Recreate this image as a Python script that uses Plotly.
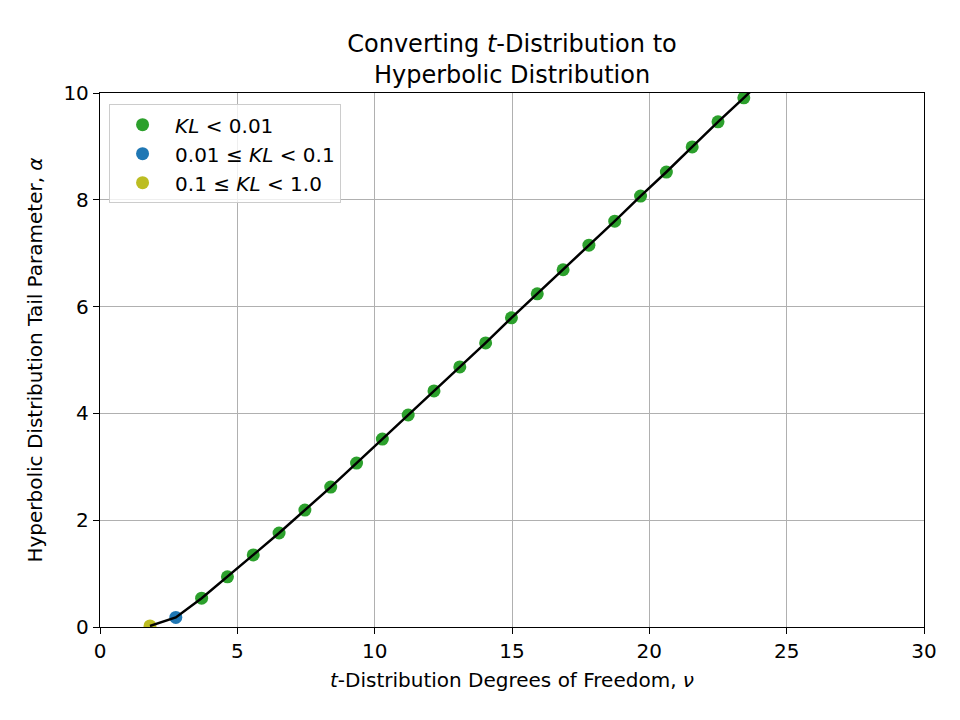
import plotly.graph_objects as go

# t-distribution degrees of freedom and fitted hyperbolic tail parameter
nu_good = [3.70, 4.64, 5.58, 6.52, 7.46, 8.40, 9.34, 10.28, 11.22, 12.16, 13.10,
           14.04, 14.98, 15.92, 16.86, 17.80, 18.74, 19.68, 20.62, 21.56, 22.50, 23.44]
alpha_good = [0.54, 0.94, 1.35, 1.76, 2.19, 2.62, 3.07, 3.52, 3.97, 4.42, 4.87,
              5.32, 5.79, 6.24, 6.69, 7.15, 7.60, 8.07, 8.52, 8.99, 9.46, 9.91]
nu_mid = [2.76]
alpha_mid = [0.18]
nu_bad = [1.82]
alpha_bad = [0.02]

# fitted curve (runs off the top of the axes)
nu_curve = [1.82, 2.76, 3.70, 4.64, 5.58, 6.52, 7.46, 8.40, 9.34, 10.28, 11.22, 12.16,
            13.10, 14.04, 14.98, 15.92, 16.86, 17.80, 18.74, 19.68, 20.62, 21.56,
            22.50, 23.44, 24.38]
alpha_curve = [0.02, 0.18, 0.54, 0.94, 1.35, 1.76, 2.19, 2.62, 3.07, 3.52, 3.97, 4.42,
               4.87, 5.32, 5.79, 6.24, 6.69, 7.15, 7.60, 8.07, 8.52, 8.99, 9.46, 9.91, 10.37]

FONT = "DejaVu Sans"
FS = 20

fig = go.Figure()
fig.add_trace(go.Scatter(x=nu_good, y=alpha_good, mode="markers",
                         name="<i>KL</i> < 0.01",
                         marker=dict(color="#2ca02c", size=13)))
fig.add_trace(go.Scatter(x=nu_mid, y=alpha_mid, mode="markers",
                         name="0.01 ≤ <i>KL</i> < 0.1",
                         marker=dict(color="#1f77b4", size=13)))
fig.add_trace(go.Scatter(x=nu_bad, y=alpha_bad, mode="markers",
                         name="0.1 ≤ <i>KL</i> < 1.0",
                         marker=dict(color="#bcbd22", size=13)))
fig.add_trace(go.Scatter(x=nu_curve, y=alpha_curve, mode="lines",
                         line=dict(color="black", width=2.5),
                         showlegend=False, hoverinfo="skip"))

axis_style = dict(showline=True, mirror=True, linecolor="black", linewidth=1.3,
                  ticks="outside", ticklen=6, tickwidth=1.3, tickcolor="black",
                  showgrid=True, gridcolor="#b0b0b0", gridwidth=1.3,
                  zeroline=False, tickfont=dict(size=FS, color="black"))

fig.update_xaxes(range=[0, 30], dtick=5,
                 title=dict(text="<i>t</i>-Distribution Degrees of Freedom, <i>ν</i>",
                            font=dict(size=FS, color="black"), standoff=10),
                 **axis_style)
fig.update_yaxes(range=[0, 10], dtick=2,
                 title=dict(text="Hyperbolic Distribution Tail Parameter, <i>α</i>",
                            font=dict(size=FS, color="black"), standoff=15),
                 **axis_style)

# page body adds an 8px offset, so margins are shifted to compensate
fig.update_layout(
    width=960, height=720,
    template="none",
    paper_bgcolor="white", plot_bgcolor="white",
    font=dict(family=FONT, color="black"),
    margin=dict(l=92, r=44, t=85, b=101),
    title=dict(text="Converting <i>t</i>-Distribution to<br>Hyperbolic Distribution",
               x=0.525, xanchor="center", y=0.939, yanchor="top",
               font=dict(size=24, color="black")),
    legend=dict(x=0.011, y=0.979, xanchor="left", yanchor="top",
                bgcolor="rgba(255,255,255,0.8)", bordercolor="#cccccc", borderwidth=1,
                itemwidth=55,
                font=dict(size=FS, color="black")),
    showlegend=True,
)

fig.write_html("out.html")
